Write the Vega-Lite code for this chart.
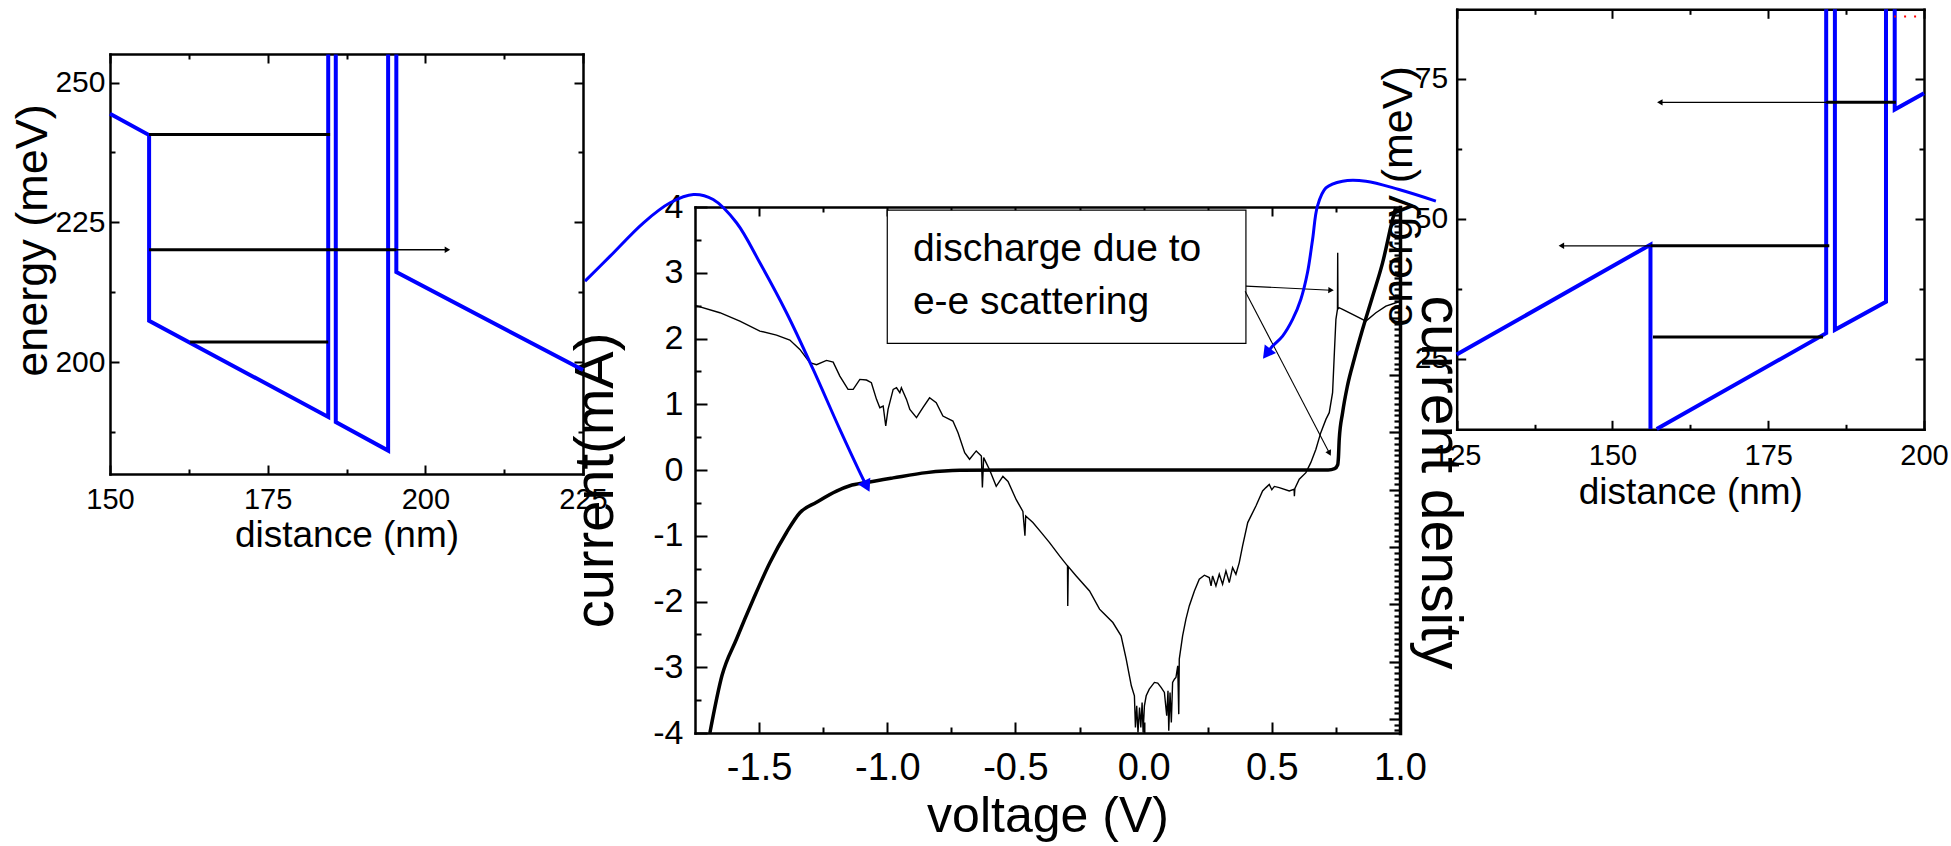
{
"$schema": "https://vega.github.io/schema/vega-lite/v6.json",
"width": 1951, "height": 846, "autosize": {"type": "none"}, "padding": 0,
"background": "white",
"config": {
  "view": {"stroke": null},
  "font": "Liberation Sans",
  "axis": {"grid": false, "domainColor": "black", "tickColor": "black", "labelColor": "black", "titleColor": "black",
    "labelFont": "Liberation Sans", "titleFont": "Liberation Sans", "titleFontWeight": "normal",
    "labelFlush": false, "labelOverlap": false, "domainWidth": 2.5, "tickWidth": 2, "domainCap": "square"}
},
"datasets": {
  "left_band": [
    {"seg": "A", "idx": 1, "distance": 150, "energy": 244.4},
    {"seg": "A", "idx": 2, "distance": 156.2, "energy": 240.6},
    {"seg": "A", "idx": 3, "distance": 156.2, "energy": 207.4},
    {"seg": "A", "idx": 4, "distance": 184.6, "energy": 190.2},
    {"seg": "A", "idx": 5, "distance": 184.6, "energy": 255},
    {"seg": "B", "idx": 6, "distance": 185.8, "energy": 255},
    {"seg": "B", "idx": 7, "distance": 185.8, "energy": 189.3},
    {"seg": "B", "idx": 8, "distance": 194.1, "energy": 184.2},
    {"seg": "B", "idx": 9, "distance": 194.1, "energy": 255},
    {"seg": "C", "idx": 10, "distance": 195.4, "energy": 255},
    {"seg": "C", "idx": 11, "distance": 195.4, "energy": 216.1},
    {"seg": "C", "idx": 12, "distance": 225, "energy": 198.6}
  ],
  "right_band": [
    {"seg": "A", "idx": 1, "distance": 125, "energy": 25.8},
    {"seg": "A", "idx": 2, "distance": 156.1, "energy": 45.4},
    {"seg": "A", "idx": 3, "distance": 156.1, "energy": 12.5},
    {"seg": "B", "idx": 4, "distance": 157.1, "energy": 12.5},
    {"seg": "B", "idx": 5, "distance": 184.3, "energy": 29.6},
    {"seg": "B", "idx": 6, "distance": 184.3, "energy": 87.4},
    {"seg": "C", "idx": 7, "distance": 185.7, "energy": 87.4},
    {"seg": "C", "idx": 8, "distance": 185.7, "energy": 30.2},
    {"seg": "C", "idx": 9, "distance": 193.9, "energy": 35.2},
    {"seg": "C", "idx": 10, "distance": 193.9, "energy": 87.4},
    {"seg": "D", "idx": 11, "distance": 195.3, "energy": 87.4},
    {"seg": "D", "idx": 12, "distance": 195.3, "energy": 69.5},
    {"seg": "D", "idx": 13, "distance": 200, "energy": 72.4}
  ],
  "iv_sweep": [
    {"idx": 1, "voltage": -1.692, "current": -4.0},
    {"idx": 2, "voltage": -1.645, "current": -3.13},
    {"idx": 3, "voltage": -1.588, "current": -2.57},
    {"idx": 4, "voltage": -1.523, "current": -1.97},
    {"idx": 5, "voltage": -1.458, "current": -1.41},
    {"idx": 6, "voltage": -1.393, "current": -0.95},
    {"idx": 7, "voltage": -1.341, "current": -0.65},
    {"idx": 8, "voltage": -1.276, "current": -0.49},
    {"idx": 9, "voltage": -1.198, "current": -0.32},
    {"idx": 10, "voltage": -1.146, "current": -0.24},
    {"idx": 11, "voltage": -1.081, "current": -0.19},
    {"idx": 12, "voltage": -0.977, "current": -0.12},
    {"idx": 13, "voltage": -0.847, "current": -0.04},
    {"idx": 14, "voltage": -0.717, "current": -0.005},
    {"idx": 15, "voltage": -0.5, "current": 0},
    {"idx": 16, "voltage": 0, "current": 0},
    {"idx": 17, "voltage": 0.5, "current": 0},
    {"idx": 18, "voltage": 0.72, "current": 0},
    {"idx": 19, "voltage": 0.745, "current": 0.02},
    {"idx": 20, "voltage": 0.757, "current": 0.08},
    {"idx": 21, "voltage": 0.76, "current": 0.2},
    {"idx": 22, "voltage": 0.763, "current": 0.47},
    {"idx": 23, "voltage": 0.776, "current": 0.87},
    {"idx": 24, "voltage": 0.795, "current": 1.28},
    {"idx": 25, "voltage": 0.821, "current": 1.68},
    {"idx": 26, "voltage": 0.854, "current": 2.14},
    {"idx": 27, "voltage": 0.893, "current": 2.64},
    {"idx": 28, "voltage": 0.932, "current": 3.15},
    {"idx": 29, "voltage": 0.971, "current": 3.81},
    {"idx": 30, "voltage": 0.984, "current": 4.0}
  ],
  "iv_fine": [
    {"idx": 1, "voltage": -1.75, "current": 2.503},
    {"idx": 2, "voltage": -1.653, "current": 2.392},
    {"idx": 3, "voltage": -1.575, "current": 2.264},
    {"idx": 4, "voltage": -1.497, "current": 2.113},
    {"idx": 5, "voltage": -1.432, "current": 2.052},
    {"idx": 6, "voltage": -1.38, "current": 1.976},
    {"idx": 7, "voltage": -1.341, "current": 1.834},
    {"idx": 8, "voltage": -1.302, "current": 1.632},
    {"idx": 9, "voltage": -1.276, "current": 1.602},
    {"idx": 10, "voltage": -1.237, "current": 1.667},
    {"idx": 11, "voltage": -1.211, "current": 1.641},
    {"idx": 12, "voltage": -1.185, "current": 1.429},
    {"idx": 13, "voltage": -1.153, "current": 1.226},
    {"idx": 14, "voltage": -1.133, "current": 1.226},
    {"idx": 15, "voltage": -1.107, "current": 1.378},
    {"idx": 16, "voltage": -1.081, "current": 1.368},
    {"idx": 17, "voltage": -1.062, "current": 1.328},
    {"idx": 18, "voltage": -1.042, "current": 1.074},
    {"idx": 19, "voltage": -1.029, "current": 0.948},
    {"idx": 20, "voltage": -1.016, "current": 0.973},
    {"idx": 21, "voltage": -1.006, "current": 0.669},
    {"idx": 22, "voltage": -0.997, "current": 0.922},
    {"idx": 23, "voltage": -0.977, "current": 1.226},
    {"idx": 24, "voltage": -0.964, "current": 1.251},
    {"idx": 25, "voltage": -0.951, "current": 1.175},
    {"idx": 26, "voltage": -0.945, "current": 1.251},
    {"idx": 27, "voltage": -0.925, "current": 1.074},
    {"idx": 28, "voltage": -0.912, "current": 0.922},
    {"idx": 29, "voltage": -0.886, "current": 0.796},
    {"idx": 30, "voltage": -0.861, "current": 0.948},
    {"idx": 31, "voltage": -0.835, "current": 1.099},
    {"idx": 32, "voltage": -0.809, "current": 1.023},
    {"idx": 33, "voltage": -0.783, "current": 0.821},
    {"idx": 34, "voltage": -0.744, "current": 0.745},
    {"idx": 35, "voltage": -0.724, "current": 0.568},
    {"idx": 36, "voltage": -0.698, "current": 0.264},
    {"idx": 37, "voltage": -0.679, "current": 0.163},
    {"idx": 38, "voltage": -0.653, "current": 0.29},
    {"idx": 39, "voltage": -0.633, "current": 0.214},
    {"idx": 40, "voltage": -0.629, "current": -0.267},
    {"idx": 41, "voltage": -0.624, "current": 0.189},
    {"idx": 42, "voltage": -0.601, "current": 0.004},
    {"idx": 43, "voltage": -0.575, "current": -0.249},
    {"idx": 44, "voltage": -0.549, "current": -0.097},
    {"idx": 45, "voltage": -0.529, "current": -0.173},
    {"idx": 46, "voltage": -0.497, "current": -0.452},
    {"idx": 47, "voltage": -0.471, "current": -0.629},
    {"idx": 48, "voltage": -0.463, "current": -1.0},
    {"idx": 49, "voltage": -0.46, "current": -0.7},
    {"idx": 50, "voltage": -0.432, "current": -0.8},
    {"idx": 51, "voltage": -0.399, "current": -0.952},
    {"idx": 52, "voltage": -0.367, "current": -1.104},
    {"idx": 53, "voltage": -0.328, "current": -1.307},
    {"idx": 54, "voltage": -0.297, "current": -1.459},
    {"idx": 55, "voltage": -0.296, "current": -2.067},
    {"idx": 56, "voltage": -0.294, "current": -1.47},
    {"idx": 57, "voltage": -0.263, "current": -1.611},
    {"idx": 58, "voltage": -0.211, "current": -1.839},
    {"idx": 59, "voltage": -0.172, "current": -2.117},
    {"idx": 60, "voltage": -0.159, "current": -2.168},
    {"idx": 61, "voltage": -0.12, "current": -2.32},
    {"idx": 62, "voltage": -0.088, "current": -2.523},
    {"idx": 63, "voltage": -0.068, "current": -2.877},
    {"idx": 64, "voltage": -0.048, "current": -3.282},
    {"idx": 65, "voltage": -0.036, "current": -3.434},
    {"idx": 66, "voltage": -0.032, "current": -3.915},
    {"idx": 67, "voltage": -0.027, "current": -3.587},
    {"idx": 68, "voltage": -0.022, "current": -3.991},
    {"idx": 69, "voltage": -0.016, "current": -3.611},
    {"idx": 70, "voltage": -0.011, "current": -3.915},
    {"idx": 71, "voltage": -0.006, "current": -3.535},
    {"idx": 72, "voltage": -0.002, "current": -3.991},
    {"idx": 73, "voltage": 0.003, "current": -3.587},
    {"idx": 74, "voltage": 0.01, "current": -3.434},
    {"idx": 75, "voltage": 0.022, "current": -3.333},
    {"idx": 76, "voltage": 0.042, "current": -3.231},
    {"idx": 77, "voltage": 0.055, "current": -3.241},
    {"idx": 78, "voltage": 0.068, "current": -3.307},
    {"idx": 79, "voltage": 0.081, "current": -3.383},
    {"idx": 80, "voltage": 0.09, "current": -3.738},
    {"idx": 81, "voltage": 0.095, "current": -3.358},
    {"idx": 82, "voltage": 0.098, "current": -3.966},
    {"idx": 83, "voltage": 0.103, "current": -3.383},
    {"idx": 84, "voltage": 0.108, "current": -3.839},
    {"idx": 85, "voltage": 0.113, "current": -3.231},
    {"idx": 86, "voltage": 0.12, "current": -3.181},
    {"idx": 87, "voltage": 0.126, "current": -3.156},
    {"idx": 88, "voltage": 0.133, "current": -2.979},
    {"idx": 89, "voltage": 0.137, "current": -3.713},
    {"idx": 90, "voltage": 0.139, "current": -2.877},
    {"idx": 91, "voltage": 0.152, "current": -2.523},
    {"idx": 92, "voltage": 0.165, "current": -2.269},
    {"idx": 93, "voltage": 0.178, "current": -2.067},
    {"idx": 94, "voltage": 0.198, "current": -1.839},
    {"idx": 95, "voltage": 0.217, "current": -1.661},
    {"idx": 96, "voltage": 0.237, "current": -1.6},
    {"idx": 97, "voltage": 0.256, "current": -1.636},
    {"idx": 98, "voltage": 0.263, "current": -1.763},
    {"idx": 99, "voltage": 0.269, "current": -1.611},
    {"idx": 100, "voltage": 0.282, "current": -1.763},
    {"idx": 101, "voltage": 0.295, "current": -1.585},
    {"idx": 102, "voltage": 0.308, "current": -1.737},
    {"idx": 103, "voltage": 0.321, "current": -1.535},
    {"idx": 104, "voltage": 0.334, "current": -1.712},
    {"idx": 105, "voltage": 0.347, "current": -1.484},
    {"idx": 106, "voltage": 0.36, "current": -1.585},
    {"idx": 107, "voltage": 0.373, "current": -1.408},
    {"idx": 108, "voltage": 0.386, "current": -1.155},
    {"idx": 109, "voltage": 0.406, "current": -0.8},
    {"idx": 110, "voltage": 0.438, "current": -0.547},
    {"idx": 111, "voltage": 0.464, "current": -0.319},
    {"idx": 112, "voltage": 0.477, "current": -0.268},
    {"idx": 113, "voltage": 0.49, "current": -0.22},
    {"idx": 114, "voltage": 0.5, "current": -0.3},
    {"idx": 115, "voltage": 0.51, "current": -0.25},
    {"idx": 116, "voltage": 0.529, "current": -0.268},
    {"idx": 117, "voltage": 0.568, "current": -0.319},
    {"idx": 118, "voltage": 0.587, "current": -0.293},
    {"idx": 119, "voltage": 0.588, "current": -0.4},
    {"idx": 120, "voltage": 0.59, "current": -0.28},
    {"idx": 121, "voltage": 0.607, "current": -0.141},
    {"idx": 122, "voltage": 0.633, "current": -0.04},
    {"idx": 123, "voltage": 0.652, "current": 0.112},
    {"idx": 124, "voltage": 0.672, "current": 0.315},
    {"idx": 125, "voltage": 0.691, "current": 0.568},
    {"idx": 126, "voltage": 0.711, "current": 0.77},
    {"idx": 127, "voltage": 0.724, "current": 0.872},
    {"idx": 128, "voltage": 0.737, "current": 1.176},
    {"idx": 129, "voltage": 0.744, "current": 1.784},
    {"idx": 130, "voltage": 0.75, "current": 2.29},
    {"idx": 131, "voltage": 0.756, "current": 2.442},
    {"idx": 132, "voltage": 0.757, "current": 3.304},
    {"idx": 133, "voltage": 0.758, "current": 2.45},
    {"idx": 134, "voltage": 0.763, "current": 2.468},
    {"idx": 135, "voltage": 0.776, "current": 2.442},
    {"idx": 136, "voltage": 0.815, "current": 2.366},
    {"idx": 137, "voltage": 0.867, "current": 2.264},
    {"idx": 138, "voltage": 0.906, "current": 2.392},
    {"idx": 139, "voltage": 0.945, "current": 2.493},
    {"idx": 140, "voltage": 0.984, "current": 2.544},
    {"idx": 141, "voltage": 1.0, "current": 2.56}
  ],
  "connectors": [
    {"link": "left", "idx": 1, "voltage": -2.179, "current": 2.872},
    {"link": "left", "idx": 2, "voltage": -2.081, "current": 3.252},
    {"link": "left", "idx": 3, "voltage": -1.951, "current": 3.76},
    {"link": "left", "idx": 4, "voltage": -1.847, "current": 4.064},
    {"link": "left", "idx": 5, "voltage": -1.756, "current": 4.19},
    {"link": "left", "idx": 6, "voltage": -1.679, "current": 4.114},
    {"link": "left", "idx": 7, "voltage": -1.588, "current": 3.76},
    {"link": "left", "idx": 8, "voltage": -1.497, "current": 3.152},
    {"link": "left", "idx": 9, "voltage": -1.393, "current": 2.392},
    {"link": "left", "idx": 10, "voltage": -1.289, "current": 1.53},
    {"link": "left", "idx": 11, "voltage": -1.185, "current": 0.618},
    {"link": "left", "idx": 12, "voltage": -1.094, "current": -0.141},
    {"link": "left", "idx": 13, "voltage": -1.08, "current": -0.248},
    {"link": "right", "idx": 1, "voltage": 1.14, "current": 4.09},
    {"link": "right", "idx": 2, "voltage": 0.996, "current": 4.266},
    {"link": "right", "idx": 3, "voltage": 0.867, "current": 4.393},
    {"link": "right", "idx": 4, "voltage": 0.776, "current": 4.393},
    {"link": "right", "idx": 5, "voltage": 0.711, "current": 4.291},
    {"link": "right", "idx": 6, "voltage": 0.678, "current": 4.013},
    {"link": "right", "idx": 7, "voltage": 0.659, "current": 3.506},
    {"link": "right", "idx": 8, "voltage": 0.639, "current": 2.999},
    {"link": "right", "idx": 9, "voltage": 0.613, "current": 2.594},
    {"link": "right", "idx": 10, "voltage": 0.581, "current": 2.29},
    {"link": "right", "idx": 11, "voltage": 0.542, "current": 2.037},
    {"link": "right", "idx": 12, "voltage": 0.503, "current": 1.885},
    {"link": "right", "idx": 13, "voltage": 0.48, "current": 1.768}
  ]
},
"layer": [
  {
    "data": {"name": "left_band"},
    "mark": {"type": "line", "color": "#0000ff", "strokeWidth": 4},
    "encoding": {
      "x": {"field": "distance", "type": "quantitative",
        "scale": {"domain": [150, 225], "range": [110, 583], "nice": false, "zero": false},
        "axis": {"orient": "bottom", "offset": -372, "values": [150, 162.5, 175, 187.5, 200, 212.5, 225],
          "labelExpr": "datum.value % 25 == 0 ? datum.label : ''",
          "tickSize": {"condition": {"test": "datum.value % 25 == 0", "value": -9}, "value": -5},
          "labelFontSize": 29, "labelPadding": 20,
          "title": "distance (nm)", "titleFontSize": 37, "titleY": 72.5, "titleBaseline": "alphabetic"}},
      "y": {"field": "energy", "type": "quantitative",
        "scale": {"domain": [180, 255.1], "range": [474, 54], "nice": false, "zero": false},
        "axis": {"orient": "left", "offset": -110, "values": [187.5, 200, 212.5, 225, 237.5, 250],
          "labelExpr": "datum.value % 25 == 0 ? datum.label : ''",
          "tickSize": {"condition": {"test": "datum.value % 25 == 0", "value": -9}, "value": -5},
          "labelFontSize": 30, "labelPadding": 14,
          "title": "energy (meV)", "titleFontSize": 45, "titleAngle": -90, "titleX": -78, "titleY": 240,
          "titleBaseline": "middle", "titleAlign": "center"}},
      "detail": {"field": "seg"},
      "order": {"field": "idx", "type": "quantitative"}
    }
  },
  {
    "data": {"values": [
      {"from": 156.2, "to": 184.9, "energy": 240.7},
      {"from": 156.2, "to": 195.4, "energy": 220.1},
      {"from": 162.7, "to": 184.6, "energy": 203.6}
    ]},
    "mark": {"type": "rule", "color": "black", "strokeWidth": 3},
    "encoding": {
      "x": {"field": "from", "type": "quantitative",
        "scale": {"domain": [150, 225], "range": [110, 583], "nice": false, "zero": false},
        "axis": {"orient": "top", "offset": -54, "values": [150, 162.5, 175, 187.5, 200, 212.5, 225], "labels": false,
          "tickSize": {"condition": {"test": "datum.value % 25 == 0", "value": -9}, "value": -5}, "title": null}},
      "x2": {"field": "to"},
      "y": {"field": "energy", "type": "quantitative",
        "scale": {"domain": [180, 255.1], "range": [474, 54], "nice": false, "zero": false},
        "axis": {"orient": "right", "offset": -1368, "values": [187.5, 200, 212.5, 225, 237.5, 250], "labels": false,
          "tickSize": {"condition": {"test": "datum.value % 25 == 0", "value": -9}, "value": -5}, "title": null}}
    }
  },
  {
    "data": {"values": [{"from": 195.4, "to": 203.5, "energy": 220.1}]},
    "mark": {"type": "rule", "color": "black", "strokeWidth": 1.3},
    "encoding": {
      "x": {"field": "from", "type": "quantitative", "scale": {"domain": [150, 225], "range": [110, 583], "nice": false, "zero": false}, "axis": null},
      "x2": {"field": "to"},
      "y": {"field": "energy", "type": "quantitative", "scale": {"domain": [180, 255.1], "range": [474, 54], "nice": false, "zero": false}, "axis": null}
    }
  },
  {
    "data": {"values": [{"distance": 203.5, "energy": 220.1}]},
    "mark": {"type": "point", "shape": "triangle-up", "angle": 90, "filled": true, "color": "black", "size": 40, "opacity": 1},
    "encoding": {
      "x": {"field": "distance", "type": "quantitative", "scale": {"domain": [150, 225], "range": [110, 583], "nice": false, "zero": false}, "axis": null},
      "y": {"field": "energy", "type": "quantitative", "scale": {"domain": [180, 255.1], "range": [474, 54], "nice": false, "zero": false}, "axis": null}
    }
  },
  {
    "data": {"name": "iv_sweep"},
    "mark": {"type": "line", "color": "black", "strokeWidth": 3.5, "interpolate": "monotone"},
    "encoding": {
      "x": {"field": "voltage", "type": "quantitative",
        "scale": {"domain": [-1.75, 1], "range": [695, 1400], "nice": false, "zero": false},
        "axis": {"orient": "bottom", "offset": -113, "values": [-1.5, -1.25, -1, -0.75, -0.5, -0.25, 0, 0.25, 0.5, 0.75, 1],
          "labelExpr": "abs(datum.value*2 - round(datum.value*2)) < 0.001 ? (datum.value < 0 ? '-' : '') + format(abs(datum.value), '.1f') : ''",
          "tickSize": {"condition": {"test": "abs(datum.value*2 - round(datum.value*2)) < 0.001", "value": -11}, "value": -6},
          "labelFontSize": 38, "labelPadding": 27,
          "title": "voltage (V)", "titleFontSize": 50, "titleY": 98.7, "titleBaseline": "alphabetic"}},
      "y": {"field": "current", "type": "quantitative",
        "scale": {"domain": [-4, 4], "range": [733, 207], "nice": false, "zero": false},
        "axis": {"orient": "left", "offset": -695, "values": [-4, -3.5, -3, -2.5, -2, -1.5, -1, -0.5, 0, 0.5, 1, 1.5, 2, 2.5, 3, 3.5, 4],
          "labelExpr": "abs(datum.value - round(datum.value)) < 0.001 ? (datum.value < 0 ? '-' : '') + abs(datum.value) : ''",
          "tickSize": {"condition": {"test": "abs(datum.value - round(datum.value)) < 0.001", "value": -12}, "value": -6},
          "labelFontSize": 34, "labelPadding": 24,
          "title": "current(mA)", "titleFontSize": 56, "titleAngle": -90, "titleX": -83, "titleY": 480,
          "titleBaseline": "alphabetic", "titleAlign": "center"}},
      "order": {"field": "idx", "type": "quantitative"}
    }
  },
  {
    "data": {"name": "iv_fine"},
    "mark": {"type": "line", "color": "black", "strokeWidth": 1.4},
    "encoding": {
      "x": {"field": "voltage", "type": "quantitative",
        "scale": {"domain": [-1.75, 1], "range": [695, 1400], "nice": false, "zero": false},
        "axis": {"orient": "top", "offset": -207, "values": [-1.5, -1.25, -1, -0.75, -0.5, -0.25, 0, 0.25, 0.5, 0.75, 1], "labels": false,
          "tickSize": {"condition": {"test": "abs(datum.value*2 - round(datum.value*2)) < 0.001", "value": -9}, "value": -5}, "title": null}},
      "y": {"field": "current", "type": "quantitative",
        "scale": {"domain": [-4, 4], "range": [733, 207], "nice": false, "zero": false}, "axis": null},
      "order": {"field": "idx", "type": "quantitative"}
    }
  },
  {
    "data": {"values": [{"density": 5, "voltage": 0}]},
    "mark": {"type": "point", "opacity": 0},
    "encoding": {
      "x": {"field": "voltage", "type": "quantitative", "scale": {"domain": [-1.75, 1], "range": [695, 1400], "nice": false, "zero": false}, "axis": null},
      "y": {"field": "density", "type": "quantitative",
        "scale": {"domain": [0.755, 9.935], "range": [733, 207], "nice": false, "zero": false},
        "axis": {"orient": "right", "offset": -551, "labels": false, "domainWidth": 3.5,
          "values": [0.8,0.9,1,1.1,1.2,1.3,1.4,1.5,1.6,1.7,1.8,1.9,2,2.1,2.2,2.3,2.4,2.5,2.6,2.7,2.8,2.9,3,3.1,3.2,3.3,3.4,3.5,3.6,3.7,3.8,3.9,4,4.1,4.2,4.3,4.4,4.5,4.6,4.7,4.8,4.9,5,5.1,5.2,5.3,5.4,5.5,5.6,5.7,5.8,5.9,6,6.1,6.2,6.3,6.4,6.5,6.6,6.7,6.8,6.9,7,7.1,7.2,7.3,7.4,7.5,7.6,7.7,7.8,7.9,8,8.1,8.2,8.3,8.4,8.5,8.6,8.7,8.8,8.9,9,9.1,9.2,9.3,9.4,9.5,9.6,9.7,9.8,9.9],
          "tickSize": {"condition": {"test": "abs(datum.value - round(datum.value)) < 0.01", "value": -11}, "value": -6},
          "tickWidth": 2.2,
          "title": "current density", "titleFontSize": 57, "titleAngle": 90, "titleX": 21, "titleY": 482,
          "titleBaseline": "alphabetic", "titleAlign": "center"}}
    }
  },
  {
    "data": {"values": [{"v_from": -1.0, "v_to": 0.399, "i_from": 1.926, "i_to": 3.951}]},
    "mark": {"type": "rect", "fill": "white", "stroke": "black", "strokeWidth": 1.2},
    "encoding": {
      "x": {"field": "v_from", "type": "quantitative", "scale": {"domain": [-1.75, 1], "range": [695, 1400], "nice": false, "zero": false}, "axis": null},
      "x2": {"field": "v_to"},
      "y": {"field": "i_from", "type": "quantitative", "scale": {"domain": [-4, 4], "range": [733, 207], "nice": false, "zero": false}, "axis": null},
      "y2": {"field": "i_to"}
    }
  },
  {
    "data": {"values": [
      {"label": "discharge due to", "voltage": -0.9, "current": 3.176},
      {"label": "e-e scattering", "voltage": -0.9, "current": 2.366}
    ]},
    "mark": {"type": "text", "font": "Liberation Sans", "fontSize": 39, "align": "left", "baseline": "alphabetic", "color": "black"},
    "encoding": {
      "x": {"field": "voltage", "type": "quantitative", "scale": {"domain": [-1.75, 1], "range": [695, 1400], "nice": false, "zero": false}, "axis": null},
      "y": {"field": "current", "type": "quantitative", "scale": {"domain": [-4, 4], "range": [733, 207], "nice": false, "zero": false}, "axis": null},
      "text": {"field": "label"}
    }
  },
  {
    "data": {"values": [
      {"v_from": 0.399, "i_from": 2.797, "v_to": 0.731, "i_to": 2.734},
      {"v_from": 0.396, "i_from": 2.72, "v_to": 0.725, "i_to": 0.255}
    ]},
    "mark": {"type": "rule", "color": "black", "strokeWidth": 1.1},
    "encoding": {
      "x": {"field": "v_from", "type": "quantitative", "scale": {"domain": [-1.75, 1], "range": [695, 1400], "nice": false, "zero": false}, "axis": null},
      "x2": {"field": "v_to"},
      "y": {"field": "i_from", "type": "quantitative", "scale": {"domain": [-4, 4], "range": [733, 207], "nice": false, "zero": false}, "axis": null},
      "y2": {"field": "i_to"}
    }
  },
  {
    "data": {"values": [{"voltage": 0.731, "current": 2.734}]},
    "mark": {"type": "point", "shape": "triangle-up", "angle": 92.8, "filled": true, "color": "black", "size": 40, "opacity": 1},
    "encoding": {
      "x": {"field": "voltage", "type": "quantitative", "scale": {"domain": [-1.75, 1], "range": [695, 1400], "nice": false, "zero": false}, "axis": null},
      "y": {"field": "current", "type": "quantitative", "scale": {"domain": [-4, 4], "range": [733, 207], "nice": false, "zero": false}, "axis": null}
    }
  },
  {
    "data": {"values": [{"voltage": 0.725, "current": 0.255}]},
    "mark": {"type": "point", "shape": "triangle-up", "angle": 152.5, "filled": true, "color": "black", "size": 40, "opacity": 1},
    "encoding": {
      "x": {"field": "voltage", "type": "quantitative", "scale": {"domain": [-1.75, 1], "range": [695, 1400], "nice": false, "zero": false}, "axis": null},
      "y": {"field": "current", "type": "quantitative", "scale": {"domain": [-4, 4], "range": [733, 207], "nice": false, "zero": false}, "axis": null}
    }
  },
  {
    "data": {"name": "right_band"},
    "mark": {"type": "line", "color": "#0000ff", "strokeWidth": 4},
    "encoding": {
      "x": {"field": "distance", "type": "quantitative",
        "scale": {"domain": [125, 200], "range": [1456.7, 1924], "nice": false, "zero": false},
        "axis": {"orient": "bottom", "offset": -416.7, "values": [125, 137.5, 150, 162.5, 175, 187.5, 200],
          "labelExpr": "datum.value % 25 == 0 ? datum.label : ''",
          "tickSize": {"condition": {"test": "datum.value % 25 == 0", "value": -9}, "value": -5},
          "labelFontSize": 29, "labelPadding": 21,
          "title": "distance (nm)", "titleFontSize": 37, "titleY": 74, "titleBaseline": "alphabetic"}},
      "y": {"field": "energy", "type": "quantitative",
        "scale": {"domain": [12.45, 87.4], "range": [429.3, 9.3], "nice": false, "zero": false},
        "axis": {"orient": "left", "offset": -1456.7, "values": [25, 37.5, 50, 62.5, 75],
          "labelExpr": "datum.value % 25 == 0 ? datum.label : ''",
          "tickSize": {"condition": {"test": "datum.value % 25 == 0", "value": -9}, "value": -5},
          "labelFontSize": 30, "labelPadding": 18,
          "title": "energy (meV)", "titleFontSize": 43, "titleAngle": -90, "titleX": -45, "titleY": 196,
          "titleBaseline": "alphabetic", "titleAlign": "center"}},
      "detail": {"field": "seg"},
      "order": {"field": "idx", "type": "quantitative"}
    }
  },
  {
    "data": {"values": [
      {"from": 195.5, "to": 184.3, "energy": 70.8},
      {"from": 184.8, "to": 156.1, "energy": 45.2},
      {"from": 156.5, "to": 183.8, "energy": 28.9}
    ]},
    "mark": {"type": "rule", "color": "black", "strokeWidth": 3},
    "encoding": {
      "x": {"field": "from", "type": "quantitative",
        "scale": {"domain": [125, 200], "range": [1456.7, 1924], "nice": false, "zero": false},
        "axis": {"orient": "top", "offset": -9.3, "values": [125, 137.5, 150, 162.5, 175, 187.5, 200], "labels": false,
          "tickSize": {"condition": {"test": "datum.value % 25 == 0", "value": -9}, "value": -5}, "title": null}},
      "x2": {"field": "to"},
      "y": {"field": "energy", "type": "quantitative",
        "scale": {"domain": [12.45, 87.4], "range": [429.3, 9.3], "nice": false, "zero": false},
        "axis": {"orient": "right", "offset": -27, "values": [25, 37.5, 50, 62.5, 75], "labels": false,
          "tickSize": {"condition": {"test": "datum.value % 25 == 0", "value": -9}, "value": -5}, "title": null}}
    }
  },
  {
    "data": {"values": [
      {"from": 184.3, "to": 157.6, "energy": 70.8},
      {"from": 156.1, "to": 141.8, "energy": 45.2}
    ]},
    "mark": {"type": "rule", "color": "black", "strokeWidth": 1.3},
    "encoding": {
      "x": {"field": "from", "type": "quantitative", "scale": {"domain": [125, 200], "range": [1456.7, 1924], "nice": false, "zero": false}, "axis": null},
      "x2": {"field": "to"},
      "y": {"field": "energy", "type": "quantitative", "scale": {"domain": [12.45, 87.4], "range": [429.3, 9.3], "nice": false, "zero": false}, "axis": null}
    }
  },
  {
    "data": {"values": [{"distance": 157.6, "energy": 70.8}, {"distance": 141.8, "energy": 45.2}]},
    "mark": {"type": "point", "shape": "triangle-up", "angle": 270, "filled": true, "color": "black", "size": 40, "opacity": 1},
    "encoding": {
      "x": {"field": "distance", "type": "quantitative", "scale": {"domain": [125, 200], "range": [1456.7, 1924], "nice": false, "zero": false}, "axis": null},
      "y": {"field": "energy", "type": "quantitative", "scale": {"domain": [12.45, 87.4], "range": [429.3, 9.3], "nice": false, "zero": false}, "axis": null}
    }
  },
  {
    "data": {"values": [{"distance": 195.2, "energy": 86.1}, {"distance": 198.9, "energy": 86.1}]},
    "mark": {"type": "line", "color": "red", "strokeWidth": 2, "strokeDash": [2, 8]},
    "encoding": {
      "x": {"field": "distance", "type": "quantitative", "scale": {"domain": [125, 200], "range": [1456.7, 1924], "nice": false, "zero": false}, "axis": null},
      "y": {"field": "energy", "type": "quantitative", "scale": {"domain": [12.45, 87.4], "range": [429.3, 9.3], "nice": false, "zero": false}, "axis": null}
    }
  },
  {
    "data": {"name": "connectors"},
    "mark": {"type": "line", "color": "#0000ff", "strokeWidth": 3, "interpolate": "catmull-rom"},
    "encoding": {
      "x": {"field": "voltage", "type": "quantitative", "scale": {"domain": [-1.75, 1], "range": [695, 1400], "nice": false, "zero": false}, "axis": null},
      "y": {"field": "current", "type": "quantitative", "scale": {"domain": [-4, 4], "range": [733, 207], "nice": false, "zero": false}, "axis": null},
      "detail": {"field": "link"},
      "order": {"field": "idx", "type": "quantitative"}
    }
  },
  {
    "data": {"values": [{"voltage": -1.08, "current": -0.248}]},
    "mark": {"type": "point", "shape": "triangle-up", "angle": 153.4, "filled": true, "color": "#0000ff", "size": 200, "opacity": 1},
    "encoding": {
      "x": {"field": "voltage", "type": "quantitative", "scale": {"domain": [-1.75, 1], "range": [695, 1400], "nice": false, "zero": false}, "axis": null},
      "y": {"field": "current", "type": "quantitative", "scale": {"domain": [-4, 4], "range": [733, 207], "nice": false, "zero": false}, "axis": null}
    }
  },
  {
    "data": {"values": [{"voltage": 0.48, "current": 1.768}]},
    "mark": {"type": "point", "shape": "triangle-up", "angle": 216.9, "filled": true, "color": "#0000ff", "size": 200, "opacity": 1},
    "encoding": {
      "x": {"field": "voltage", "type": "quantitative", "scale": {"domain": [-1.75, 1], "range": [695, 1400], "nice": false, "zero": false}, "axis": null},
      "y": {"field": "current", "type": "quantitative", "scale": {"domain": [-4, 4], "range": [733, 207], "nice": false, "zero": false}, "axis": null}
    }
  }
],
"resolve": {"scale": {"x": "independent", "y": "independent"}}
}
